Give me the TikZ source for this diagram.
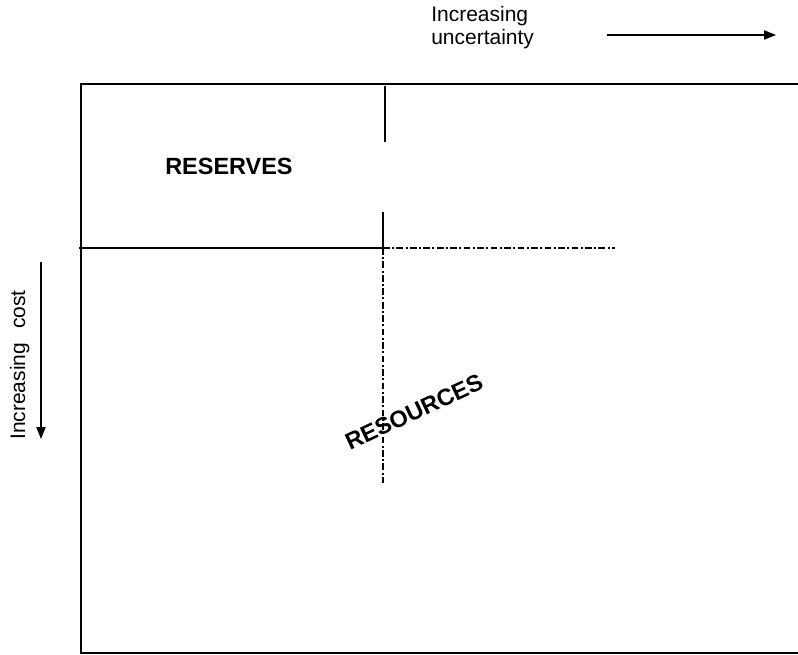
\documentclass[tikz,border=0pt]{standalone}
\usepackage{fontspec}
\setmainfont{Liberation Sans}
\usetikzlibrary{arrows.meta}
\begin{document}
\begin{tikzpicture}[x=0.75pt,y=-0.75pt,
  frame/.style={line width=1.3pt,black},
  divider/.style={line width=0.8pt,black},
  guide/.style={line width=0.8pt,black,dash pattern=on 5pt off 1.8pt on 1.5pt off 1.8pt},
  axisarrow/.style={line width=0.8pt,-{Triangle[length=9pt,width=7pt]}},
  axislabel/.style={font=\fontsize{15.75}{17.25}\selectfont,inner sep=0pt},
  classlabel/.style={font=\fontsize{17.6}{20}\selectfont\bfseries,inner sep=0pt}]
  \useasboundingbox (0,0) rectangle (798,655);
  \clip (0,0) rectangle (798,655);

  % outer frame (its right side runs past the page edge)
  \coordinate (tl) at (81,84);
  \coordinate (br) at (806,653);
  \draw[frame] (tl) rectangle (br);

  % reserves / resources boundary
  \coordinate (hL) at (79,248);
  \coordinate (hX) at (383,248);
  \coordinate (hR) at (615,248);
  \coordinate (vTop1) at (385,86);
  \coordinate (vBot1) at (385,142);
  \coordinate (vTop2) at (383,212);
  \coordinate (vEnd) at (383,483);
  \draw[divider] (hL) -- (hX);
  \draw[guide] (hX) -- (hR);
  \draw[divider] (vTop1) -- (vBot1);
  \draw[divider] (vTop2) -- (hX);
  \draw[guide] (hX) -- (vEnd);

  % axis arrows
  \coordinate (uStart) at (607,35);
  \coordinate (uEnd) at (776,35);
  \draw[axisarrow] (uStart) -- (uEnd);
  \coordinate (cStart) at (41,262);
  \coordinate (cEnd) at (41,439);
  \draw[axisarrow] (cStart) -- (cEnd);

  % labels
  \node[axislabel,anchor=base west,align=left] (uncert) at (431,45)
    {Increasing\\uncertainty};
  \node[axislabel,anchor=base west,rotate=90] (cost) at (25,440)
    {Increasing\hspace{10.5pt}cost};
  \node[classlabel,anchor=base west] (reserves) at (165,175) {RESERVES};
  \node[classlabel,rotate=25] (resources) at (414,412) {RESOURCES};
\end{tikzpicture}
\end{document}
